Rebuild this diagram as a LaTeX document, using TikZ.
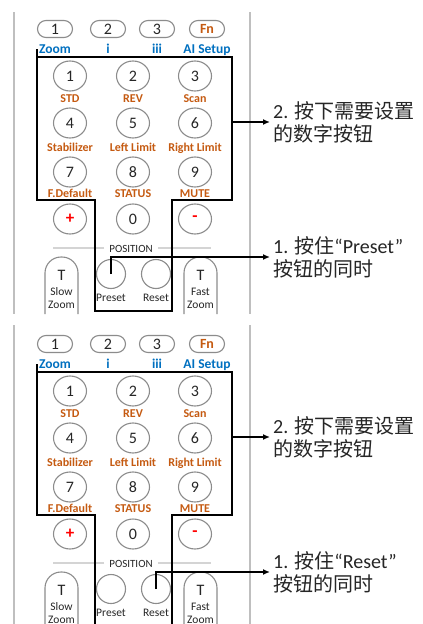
\documentclass[tikz,border=0pt]{standalone}
\usepackage{fontspec}
\setmainfont{Carlito}
\newfontfamily\cjk{Noto Sans CJK SC}
\usetikzlibrary{shapes.geometric,arrows.meta}
\definecolor{bblue}{HTML}{0070C0}
\definecolor{lorange}{HTML}{C55A11}
\definecolor{bgray}{HTML}{8C8C8C}
\definecolor{lgray}{HTML}{BFBFBF}
\definecolor{pgray}{HTML}{D4D4D4}
\definecolor{tdark}{HTML}{262626}
\tikzset{
  oval/.style={draw=bgray, line width=1.1pt, rounded corners=8.5pt, minimum width=35pt, minimum height=17pt, inner sep=0pt, font=\fontsize{16}{16}\selectfont, text=tdark},
  numbtn/.style={draw=bgray, line width=1.1pt, ellipse, minimum width=33pt, minimum height=30pt, inner sep=0pt, font=\fontsize{16}{16}\selectfont, text=tdark},
  posbtn/.style={draw=bgray, line width=1.1pt, circle, minimum size=29pt, inner sep=0pt},
  bluelab/.style={anchor=base, inner sep=0pt, text=bblue, font=\fontsize{13.5}{13.5}\selectfont\bfseries},
  orlab/.style={anchor=base, inner sep=0pt, text=lorange, font=\fontsize{12}{12}\selectfont\bfseries},
  smalllab/.style={anchor=base, inner sep=0pt, text=tdark, font=\fontsize{11.5}{11.5}\selectfont},
  tlab/.style={anchor=base, inner sep=0pt, text=tdark, font=\fontsize{16}{16}\selectfont},
  frame/.style={draw=lgray, line width=2pt},
  posline/.style={draw=pgray, line width=1.5pt},
  hilite/.style={draw=black, line width=2.2pt, line join=miter},
  arr/.style={draw=black, line width=1.4pt, -{Latex[length=7pt,width=6pt]}},
  note/.style={anchor=west, inner sep=3pt, align=left, text=tdark, font=\fontsize{20}{23}\selectfont},
  tallbtn/.style={draw=bgray, line width=1.1pt, rounded corners=16pt}
}
% #1 prefix, #2 y offset, #3 frame top, #4 frame bottom, #5 source button, #6 quoted word
\newcommand\remotepanel[6]{%
\begin{scope}[shift={(0,#2)}]
  \draw[frame] (14,#3) -- (14,#4);
  \draw[frame] (250,#3) -- (250,#4);
  % top row
  \node[oval] (#1o1) at (55,29) {1};
  \node[oval] (#1o2) at (108,29) {2};
  \node[oval] (#1o3) at (157,29) {3};
  \node[oval, text=lorange, font=\fontsize{14}{14}\selectfont\bfseries] (#1ofn) at (207,29) {Fn};
  \node[bluelab] (#1lz) at (55,53.5) {Zoom};
  \node[bluelab] (#1li) at (108,53.5) {i};
  \node[bluelab] (#1liii) at (157,53.5) {iii};
  \node[bluelab] (#1lai) at (207,53.5) {AI Setup};
  % number pad
  \node[numbtn] (#1n1) at (70,76) {1};
  \node[numbtn] (#1n2) at (133,76) {2};
  \node[numbtn] (#1n3) at (195,76) {3};
  \node[orlab] (#1l1) at (70,102) {STD};
  \node[orlab] (#1l2) at (133,102) {REV};
  \node[orlab] (#1l3) at (195,102) {Scan};
  \node[numbtn] (#1n4) at (70,123) {4};
  \node[numbtn] (#1n5) at (133,123) {5};
  \node[numbtn] (#1n6) at (195,123) {6};
  \node[orlab] (#1l4) at (70,151) {Stabilizer};
  \node[orlab] (#1l5) at (133,151) {Left Limit};
  \node[orlab] (#1l6) at (195,151) {Right Limit};
  \node[numbtn] (#1n7) at (70,172) {7};
  \node[numbtn] (#1n8) at (133,172) {8};
  \node[numbtn] (#1n9) at (195,172) {9};
  \node[orlab] (#1l7) at (70,197) {F.Default};
  \node[orlab] (#1l8) at (133,197) {STATUS};
  \node[orlab] (#1l9) at (195,197) {MUTE};
  \node[numbtn, text=red, font=\fontsize{17}{17}\selectfont\bfseries] (#1nplus) at (70,219) {+};
  \node[numbtn] (#1n0) at (133,219) {0};
  \node[numbtn, text=red, font=\fontsize{17}{17}\selectfont\bfseries] (#1nminus) at (195,219) {-};
  % position
  \node[smalllab, font=\fontsize{11}{11}\selectfont] (#1pos) at (131,252) {POSITION};
  \draw[posline] ([xshift=-5pt]#1pos.west |- 0,248) -- (53,248);
  \draw[posline] ([xshift=5pt]#1pos.east |- 0,248) -- (211,248);
  \node[posbtn] (#1preset) at (111,274) {};
  \node[posbtn] (#1reset) at (156,274) {};
  \node[smalllab] (#1lpreset) at (111,301) {Preset};
  \node[smalllab] (#1lreset) at (156,301) {Reset};
  % tall buttons
  \draw[tallbtn] (45,#4) -- (45,257) -- (78,257) -- (78,#4);
  \draw[tallbtn] (184,#4) -- (184,257) -- (217,257) -- (217,#4);
  \node[tlab] (#1tslow) at (61.5,280) {T};
  \node[smalllab] (#1lslow) at (61.5,295) {Slow};
  \node[smalllab] (#1lslowz) at (61.5,308) {Zoom};
  \node[tlab] (#1tfast) at (200.5,280) {T};
  \node[smalllab] (#1lfast) at (200.5,295) {Fast};
  \node[smalllab] (#1lfastz) at (200.5,308) {Zoom};
  % highlight outline
  \draw[hilite] (37,49) -- (37,200) -- (95,200) -- (95,311) -- (172,311) -- (172,200) -- (232,200) -- (232,57) -- (36,57);
  \coordinate (#1boxr) at (232,122);
  % notes
  \node[note] (#1t2) at (270,122) {2. {\cjk 按下需要设置}\\{\cjk 的数字按钮}};
  \node[note] (#1t1) at (270,257) {1. {\cjk 按住}“#6”\\{\cjk 按钮的同时}};
  \draw[arr] (#1boxr) -- (#1t2.west);
  \draw[arr] (#1#5.center) |- (#1t1.west);
\end{scope}}
\begin{document}
\begin{tikzpicture}[x=1pt,y=-1pt]
  \useasboundingbox[fill=white] (0,0) rectangle (423,624);
  \begin{scope}
    \clip (0,0) rectangle (423,314);
    \remotepanel{a}{0}{12}{314}{preset}{Preset}
  \end{scope}
  \begin{scope}
    \clip (0,321) rectangle (423,624);
    \remotepanel{b}{315}{10}{315}{reset}{Reset}
  \end{scope}
\end{tikzpicture}
\end{document}
